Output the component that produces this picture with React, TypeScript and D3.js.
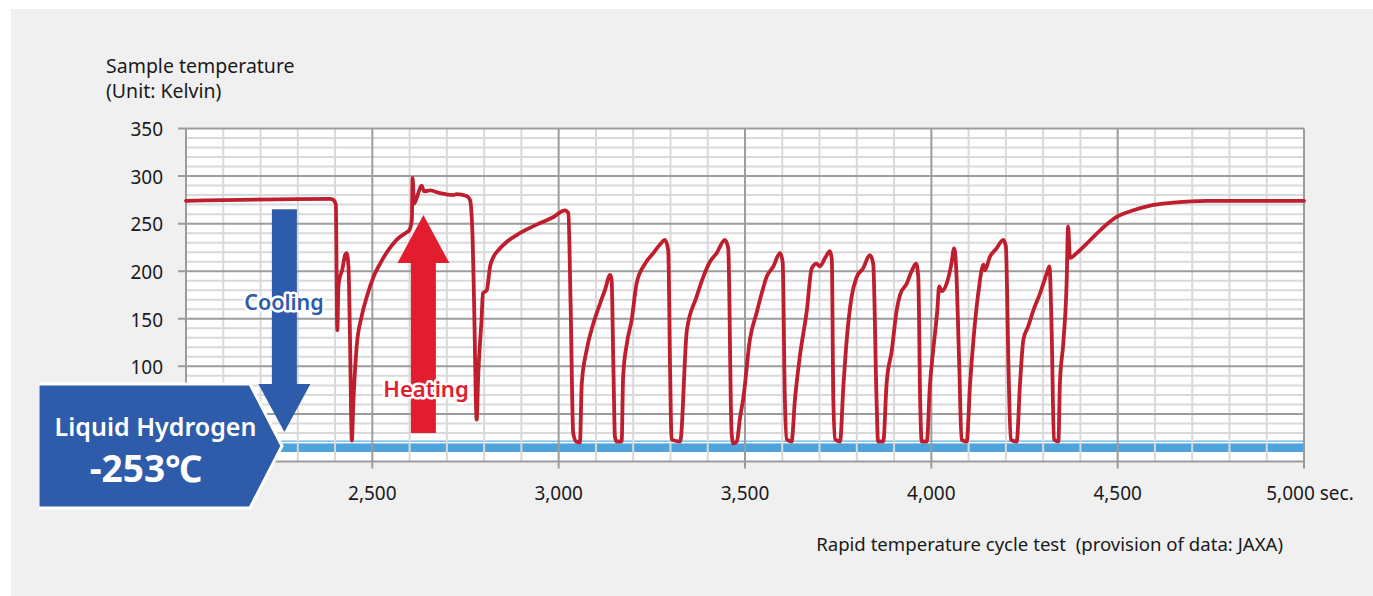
import React from 'react';
import * as d3 from 'd3';

// time (sec) and sample temperature (K)
const times = [
  2000, 2386, 2395, 2402, 2406, 2409, 2413, 2419, 2427, 2431, 2436, 2440, 2445, 2449, 2458, 2471,
  2485, 2503, 2521, 2539, 2565, 2592, 2599, 2606, 2608, 2612, 2619, 2632, 2639, 2655, 2682, 2717,
  2726, 2753, 2762, 2769, 2773, 2780, 2784, 2793, 2797, 2807, 2816, 2825, 2838, 2861, 2896, 2941,
  2986, 3017, 3026, 3032, 3039, 3047, 3057, 3062, 3075, 3093, 3111, 3124, 3138, 3142, 3147, 3151,
  3156, 3169, 3173, 3183, 3196, 3209, 3232, 3254, 3272, 3285, 3294, 3299, 3303, 3326, 3344, 3370,
  3388, 3406, 3424, 3446, 3455, 3464, 3469, 3478, 3487, 3496, 3513, 3531, 3545, 3558, 3576, 3594,
  3601, 3607, 3612, 3625, 3634, 3647, 3666, 3679, 3692, 3701, 3715, 3728, 3733, 3737, 3742, 3755,
  3764, 3773, 3786, 3800, 3817, 3835, 3844, 3853, 3857, 3871, 3880, 3894, 3907, 3916, 3934, 3947,
  3959, 3965, 3970, 3974, 3988, 3996, 4005, 4016, 4021, 4028, 4041, 4054, 4061, 4066, 4075, 4081,
  4095, 4104, 4113, 4126, 4140, 4144, 4157, 4175, 4193, 4200, 4207, 4213, 4229, 4238, 4247, 4260,
  4274, 4292, 4310, 4317, 4323, 4329, 4341, 4345, 4354, 4363, 4367, 4372, 4390, 4417, 4453, 4497,
  4542, 4587, 4649, 4739, 5000,
];
const temps = [
  274, 276, 275, 270, 138, 184, 194, 201, 217, 219, 205, 131, 22, 61, 121, 152,
  173, 194, 208, 220, 233, 241, 243, 254, 298, 271, 277, 290, 284, 285, 282, 280,
  281, 279, 275, 236, 167, 44, 89, 149, 177, 180, 205, 215, 222, 231, 240, 249,
  257, 264, 261, 166, 30, 21, 20, 82, 117, 145, 166, 180, 196, 191, 96, 26,
  21, 21, 89, 124, 149, 187, 208, 219, 228, 233, 222, 96, 23, 21, 138, 173,
  194, 210, 219, 233, 224, 30, 19, 21, 47, 68, 128, 156, 177, 194, 205, 219,
  210, 65, 23, 21, 65, 110, 159, 203, 208, 205, 214, 221, 212, 65, 23, 21,
  79, 128, 173, 194, 203, 217, 208, 65, 21, 21, 82, 117, 159, 175, 187, 200,
  208, 194, 65, 21, 21, 79, 117, 159, 184, 179, 187, 208, 224, 208, 100, 23,
  21, 82, 128, 177, 207, 201, 215, 224, 233, 226, 100, 23, 21, 82, 128, 142,
  159, 177, 198, 205, 135, 23, 21, 82, 124, 187, 247, 214, 219, 229, 243, 257,
  264, 269, 272, 274, 274,
];

const yTicks = [100, 150, 200, 250, 300, 350];
const xTicks = [2500, 3000, 3500, 4000, 4500, 5000];
const xTickLabels = ['2,500', '3,000', '3,500', '4,000', '4,500', '5,000 sec.'];

// liquid hydrogen level band (K)
const h2Band = [10, 19];
const h2Line = 21.5;

// annotation arrows: [time, from temp, to temp]
const coolArrow = { t: 2264, from: 265, to: 31 };
const heatArrow = { t: 2637, from: 30, to: 259 };

const font = '"Noto Sans", "Open Sans", sans-serif';

export default function App() {
  const width = 1373;
  const height = 596;

  const x = d3.scaleLinear().domain([2000, 5000]).range([186, 1304]);
  const y = d3.scaleLinear().domain([0, 350]).range([461.5, 128.5]);

  const data = times.map((t, i) => ({ t, v: temps[i] }));
  const line = d3
    .line<{ t: number; v: number }>()
    .x((d) => x(d.t))
    .y((d) => y(d.v))
    .curve(d3.curveMonotoneX);

  const minorX = d3.range(2000, 5001, 100).filter((d) => d % 500 !== 0);
  const majorX = d3.range(2000, 5001, 500);
  const minorY = d3.range(0, 351, 10).filter((d) => d % 50 !== 0 && d > 20);
  const majorY = d3.range(0, 351, 50);

  const [x0, x1] = x.range();
  const [yb, yt] = y.range();

  // arrow shape (vertical), widths in px
  const arrow = (a: { t: number; from: number; to: number }) => {
    const cx = x(a.t);
    const ys = y(a.from);
    const ye = y(a.to);
    const dir = ye > ys ? 1 : -1;
    const headLen = 48;
    const hb = ye - dir * headLen;
    const sw = 12.5;
    const hw = 26;
    return `M${cx - sw},${ys} L${cx + sw},${ys} L${cx + sw},${hb} L${cx + hw},${hb} L${cx},${ye} L${cx - hw},${hb} L${cx - sw},${hb} Z`;
  };

  const blue = '#2e5caa';
  const red = '#e31d30';
  const ink = '#1a1a1a';

  return (
    <svg width={width} height={height} style={{ display: 'block', position: 'absolute', left: 0, top: 0 }}>
      <rect x={0} y={0} width={width} height={height} fill="#fff" />
      <rect x={11} y={9} width={width - 11} height={height - 9} fill="#f0f0f0" />

      <text x={106} y={73} fontFamily={font} fontSize={19.5} fill={ink}>Sample temperature</text>
      <text x={106} y={98} fontFamily={font} fontSize={19.5} fill={ink}>(Unit: Kelvin)</text>

      {/* plot area */}
      <rect x={x0} y={yt} width={x1 - x0} height={yb - yt} fill="#fff" />

      {minorY.map((d) => (
        <line key={'my' + d} x1={x0} x2={x1} y1={y(d)} y2={y(d)} stroke="#d9d9d9" strokeWidth={2} />
      ))}

      <rect x={x0} y={y(h2Band[1])} width={x1 - x0} height={y(h2Band[0]) - y(h2Band[1])} fill="#4da3db" />
      <line x1={x0} x2={x1} y1={y(h2Line)} y2={y(h2Line)} stroke="#5db0e4" strokeWidth={1.2} />

      {minorX.map((d) => (
        <line key={'mx' + d} x1={x(d)} x2={x(d)} y1={yt} y2={yb} stroke="#d9d9d9" strokeWidth={2} />
      ))}
      {majorY.map((d) => (
        <line key={'My' + d} x1={x0 - 8} x2={x1} y1={y(d)} y2={y(d)} stroke="#9c9c9c" strokeWidth={2} />
      ))}
      {majorX.map((d) => (
        <line key={'Mx' + d} x1={x(d)} x2={x(d)} y1={yt} y2={yb + 7} stroke="#9c9c9c" strokeWidth={2} />
      ))}

      {yTicks.map((d) => (
        <text key={'yl' + d} x={163} y={y(d) + 1} dy="0.36em" textAnchor="end" fontFamily={font} fontSize={19} fill={ink}>
          {d}
        </text>
      ))}
      {xTicks.map((d, i) => (
        <text key={'xl' + d} x={x(d) + (i === xTicks.length - 1 ? 6 : 0)} y={500} textAnchor="middle" fontFamily={font} fontSize={19} fill={ink}>
          {xTickLabels[i]}
        </text>
      ))}

      <path d={line(data) || ''} fill="none" stroke="#be1e2d" strokeWidth={3.8} strokeLinejoin="round" strokeLinecap="round" />

      <path d={arrow(coolArrow)} fill={blue} />
      <path d={arrow(heatArrow)} fill={red} />

      <text x={284} y={310} textAnchor="middle" fontFamily={font} fontSize={21.5} fontWeight={600} fill={blue}
        stroke="#fff" strokeWidth={5} strokeLinejoin="round" style={{ paintOrder: 'stroke' }}>
        Cooling
      </text>
      <text x={426} y={397} textAnchor="middle" fontFamily={font} fontSize={22} fontWeight={600} fill={red}
        stroke="#fff" strokeWidth={5} strokeLinejoin="round" style={{ paintOrder: 'stroke' }}>
        Heating
      </text>

      {/* liquid hydrogen badge */}
      <path d="M38,384 L250,384 L282,446 L250,508 L38,508 Z" fill={blue} stroke="#fff" strokeWidth={3} strokeLinejoin="miter" />
      <rect x={36} y={382} width={3} height={128} fill="#f0f0f0" />
      <text x={155.5} y={436} textAnchor="middle" fontFamily={font} fontSize={25} fontWeight={600} fill="#fff">Liquid Hydrogen</text>
      <text x={146} y={482} textAnchor="middle" fontFamily={font} fontSize={37} fontWeight={700} fill="#fff">-253℃</text>

      <text x={1283} y={551} textAnchor="end" fontFamily={font} fontSize={18.6} fill={ink} style={{ whiteSpace: 'pre' }}>
        {'Rapid temperature cycle test  (provision of data: JAXA)'}
      </text>
    </svg>
  );
}
